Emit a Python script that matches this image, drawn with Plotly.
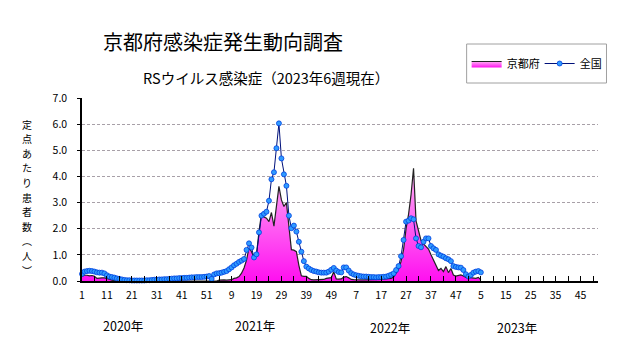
import plotly.graph_objects as go

# ---------------- data (per-week values) ----------------
national_2020 = [0.27, 0.36, 0.38, 0.39, 0.38, 0.36, 0.33, 0.32, 0.32, 0.29,
                 0.22, 0.17, 0.15, 0.13, 0.10, 0.08, 0.06, 0.04, 0.03, 0.03,
                 0.02, 0.02, 0.02, 0.02, 0.02, 0.02, 0.03, 0.03, 0.04, 0.05,
                 0.05, 0.06, 0.06, 0.07, 0.07, 0.08, 0.09, 0.10, 0.10, 0.11,
                 0.11, 0.12, 0.12, 0.13, 0.14, 0.14, 0.15, 0.15, 0.15, 0.16,
                 0.17, 0.19]
national_2021 = [0.08, 0.25, 0.29, 0.30, 0.32, 0.35, 0.38, 0.45, 0.52, 0.60,
                 0.66, 0.73, 0.78, 0.84, 1.19, 1.44, 1.28, 0.90, 1.02, 1.86,
                 2.50, 2.57, 2.65, 3.07, 3.89, 4.16, 5.08, 6.03, 4.69, 4.08,
                 3.64, 2.50, 2.02, 2.12, 1.89, 1.50, 1.12, 0.76, 0.55, 0.48,
                 0.42, 0.38, 0.36, 0.33, 0.32, 0.32, 0.32, 0.36, 0.43, 0.50,
                 0.40, 0.34]
national_2022 = [0.33, 0.52, 0.52, 0.40, 0.30, 0.25, 0.22, 0.20, 0.18, 0.17,
                 0.17, 0.16, 0.15, 0.15, 0.14, 0.15, 0.15, 0.16, 0.17, 0.20,
                 0.24, 0.29, 0.42, 0.57, 0.95, 1.57, 2.27, 2.31, 2.40, 2.36,
                 1.63, 1.34, 1.29, 1.50, 1.63, 1.63, 1.34, 1.25, 1.19, 1.02,
                 0.97, 0.93, 0.87, 0.83, 0.76, 0.57, 0.54, 0.52, 0.51, 0.42,
                 0.26, 0.17]
national_2023 = [0.23, 0.32, 0.36, 0.38, 0.33]

kyoto_2020 = [0.18, 0.22, 0.22, 0.20, 0.21, 0.18, 0.10, 0.12, 0.12, 0.12,
              0.10, 0.07, 0.03, 0.00, 0.00, 0.00, 0.00, 0.00, 0.00, 0.00,
              0.00, 0.00, 0.00, 0.00, 0.00, 0.00, 0.00, 0.00, 0.00, 0.00,
              0.00, 0.00, 0.00, 0.00, 0.00, 0.00, 0.00, 0.00, 0.00, 0.00,
              0.00, 0.00, 0.00, 0.00, 0.00, 0.00, 0.00, 0.00, 0.00, 0.00,
              0.00, 0.00]
kyoto_2021 = [0.00, 0.00, 0.00, 0.03, 0.04, 0.04, 0.03, 0.05, 0.05, 0.10,
              0.12, 0.17, 0.30, 0.50, 0.80, 1.27, 1.12, 0.90, 1.02, 1.88,
              2.58, 2.45, 2.40, 2.27, 2.62, 2.10, 2.95, 3.62, 3.10, 2.85,
              3.00, 2.20, 1.20, 1.18, 1.12, 0.60, 0.20, 0.18, 0.18, 0.10,
              0.05, 0.04, 0.04, 0.04, 0.05, 0.06, 0.10, 0.12, 0.13, 0.35,
              0.08, 0.07]
kyoto_2022 = [0.08, 0.15, 0.17, 0.12, 0.06, 0.05, 0.04, 0.04, 0.04, 0.04,
              0.04, 0.04, 0.04, 0.04, 0.04, 0.04, 0.06, 0.07, 0.08, 0.08,
              0.10, 0.15, 0.30, 0.45, 0.75, 1.20, 2.00, 2.55, 3.30, 4.31,
              2.30, 1.92, 1.55, 1.42, 1.30, 1.22, 1.00, 0.80, 0.60, 0.40,
              0.48, 0.36, 0.55, 0.32, 0.48, 0.23, 0.19, 0.20, 0.23, 0.19,
              0.14, 0.14]
kyoto_2023 = [0.12, 0.10, 0.10, 0.14, 0.04]

tick_labels = ["1", "11", "21", "31", "41", "51",
               "9", "19", "29", "39", "49",
               "7", "17", "27", "37", "47",
               "5", "15", "25", "35", "45"]
year_labels = ["2020年", "2021年", "2022年", "2023年"]
series_names = ["京都府", "全国"]
y_title_chars = ["定", "点", "あ", "た", "り", "患", "者", "数", "︵", "人", "︶"]

# ---------------- derived ----------------
national = national_2020 + national_2021 + national_2022 + national_2023
kyoto = kyoto_2020 + kyoto_2021 + kyoto_2022 + kyoto_2023
week_index = list(range(1, len(national) + 1))
n_categories = 208
tick_positions = list(range(1, n_categories, 10))

W, H = 631, 347
L, R, T, B = 82, 598.5, 98, 281   # plot area in pixels


def px(xp):
    return (xp - L) / (R - L)


def py(yp):
    return (B - yp) / (B - T)


JP = "Noto Sans CJK JP"

fig = go.Figure()

fig.add_trace(go.Scatter(
    x=week_index, y=kyoto, name=series_names[0], mode="lines",
    line=dict(color="#222222", width=1.2),
    fill="tozeroy",
    fillgradient=dict(type="vertical",
                      colorscale=[[0, "#ff10f0"], [1, "#ffb0f5"]]),
    cliponaxis=False,
))

fig.add_trace(go.Scatter(
    x=week_index, y=national, name=series_names[1], mode="lines+markers",
    line=dict(color="#00107a", width=1),
    marker=dict(symbol="circle", size=5, color="#2f9bff",
                line=dict(color="#0040e0", width=0.8)),
    cliponaxis=False,
))

fig.update_xaxes(
    range=[1, n_categories],
    showline=True, linecolor="black", linewidth=1.5,
    showgrid=False, zeroline=False,
    tickmode="array", tickvals=tick_positions, ticktext=tick_labels,
    ticks="inside", ticklen=5, tickcolor="black", tickwidth=1,
    minor=dict(ticks="inside", ticklen=5, tick0=6, dtick=10,
               tickcolor="black", tickwidth=1, showgrid=False),
    tickfont=dict(family=JP, size=10.5, color="black"),
    ticklabelstandoff=4,
    fixedrange=True,
)

fig.update_yaxes(
    range=[0, 7], dtick=1, tick0=0, tickformat=".1f",
    showline=True, linecolor="black", linewidth=1.5,
    showgrid=True, gridcolor="#a8a0a8", gridwidth=1, griddash="3px,2px",
    zeroline=False,
    ticks="outside", ticklen=3, tickcolor="black",
    tickfont=dict(family=JP, size=10.5, color="black"),
    ticklabelstandoff=8,
    fixedrange=True,
)

annotations = [
    dict(text="京都府感染症発生動向調査", x=px(223.5), y=py(41),
         font=dict(family=JP, size=20, color="black")),
    dict(text="RSウイルス感染症（2023年6週現在）", x=px(266), y=py(77),
         font=dict(family=JP, size=14.5, color="black")),
]
y_title_top, y_title_step = 124, 14.6
for k, ch in enumerate(y_title_chars):
    annotations.append(dict(text=ch, x=px(27), y=py(y_title_top + k * y_title_step),
                            borderpad=0,
                            font=dict(family=JP, size=10, color="black")))
year_px = [(123.5, 325), (255, 325), (390, 327), (517, 327)]
for label, (xp, yp) in zip(year_labels, year_px):
    annotations.append(dict(text=label, x=px(xp), y=py(yp),
                            font=dict(family=JP, size=12.5, color="black")))
for a in annotations:
    a.update(xref="paper", yref="paper", showarrow=False,
             xanchor="center", yanchor="middle")

fig.update_layout(
    width=W, height=H, autosize=False,
    margin=dict(l=L, r=W - R, t=T, b=H - B, pad=0, autoexpand=False),
    paper_bgcolor="white", plot_bgcolor="white",
    showlegend=True,
    legend=dict(orientation="h", x=px(467), y=py(63.5),
                xanchor="left", yanchor="middle",
                bgcolor="rgba(0,0,0,0)", borderwidth=0,
                font=dict(family=JP, size=11, color="black"),
                itemwidth=30, traceorder="normal", tracegroupgap=0,
                entrywidth=28, entrywidthmode="pixels"),
    annotations=annotations,
    shapes=[dict(type="rect", xref="paper", yref="paper",
                 x0=px(467), x1=px(607), y0=py(44), y1=py(83),
                 line=dict(color="#a0a0a0", width=1),
                 fillcolor="rgba(0,0,0,0)")],
)

fig.write_html("out.html")
